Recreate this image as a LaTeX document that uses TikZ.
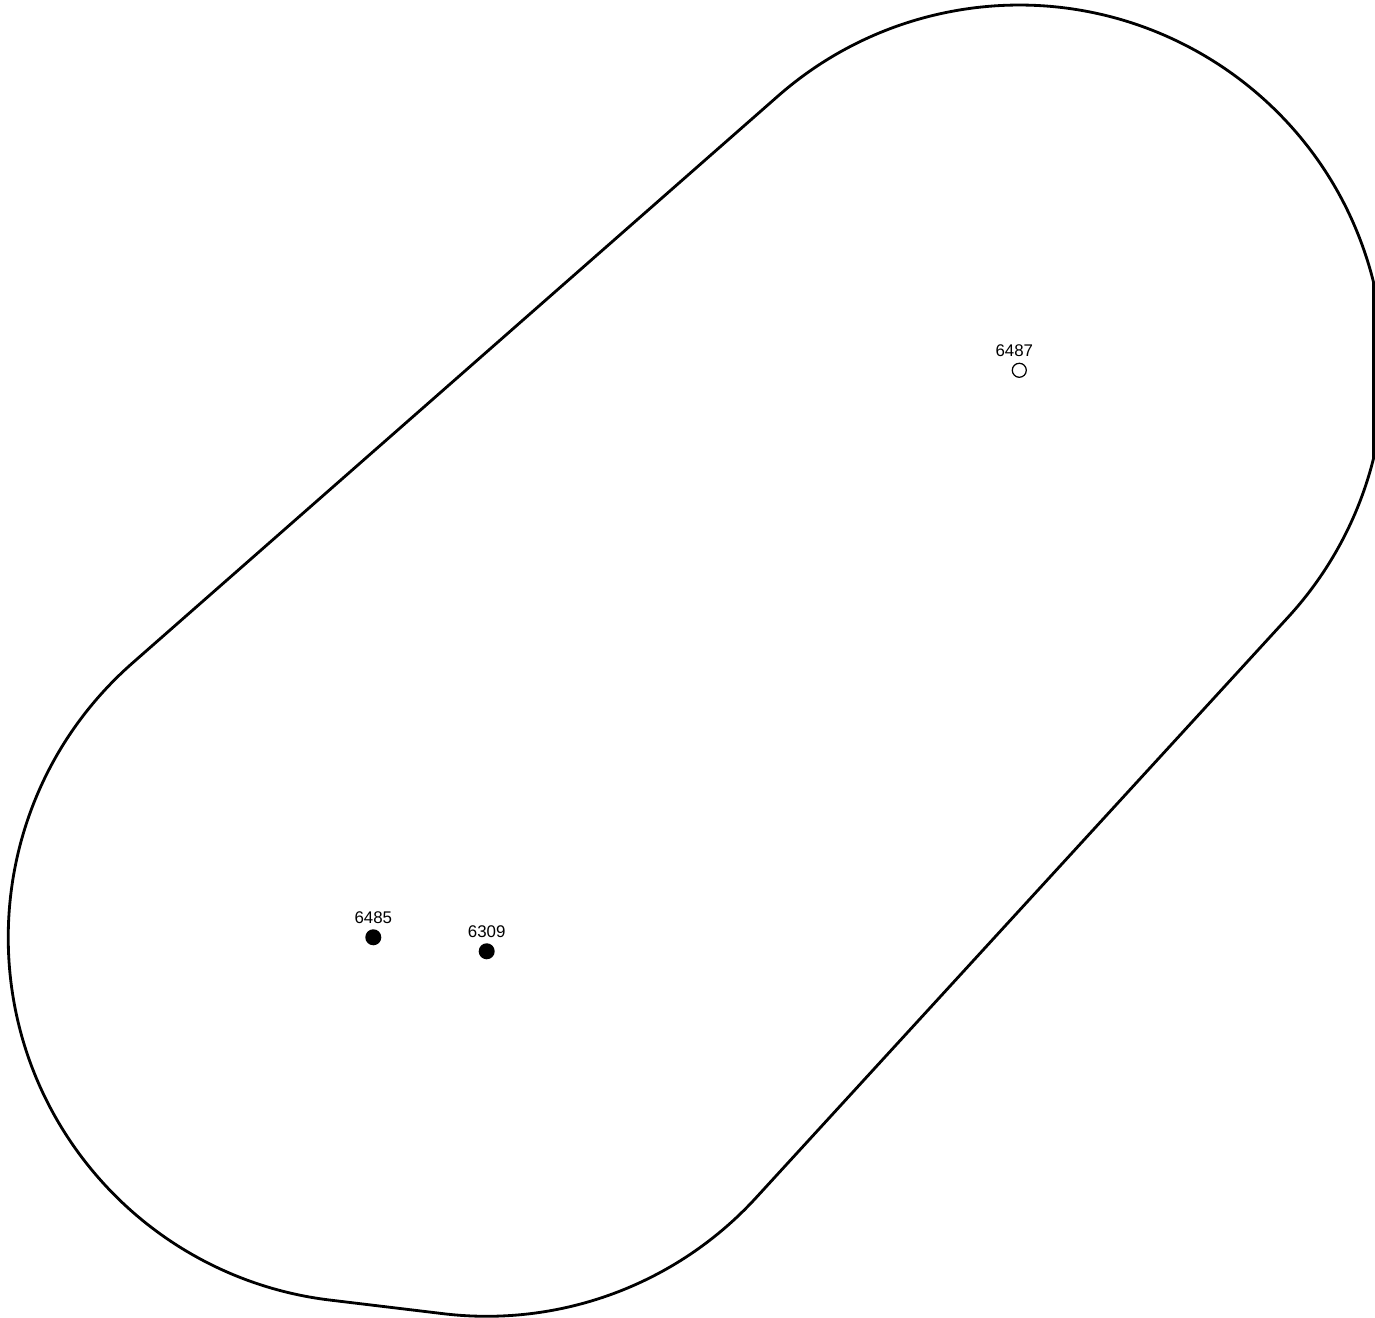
\documentclass[tikz,border=0pt]{standalone}
\usepackage{fontspec}
\setmainfont{Liberation Sans}
\usetikzlibrary{calc, positioning}

\begin{document}
\begin{tikzpicture}[x=0.01cm, y=0.01cm,
  outline/.style={draw=black, line width=0.8pt, line join=round},
  hit/.style={circle, fill=black, inner sep=0pt, minimum size=0.16cm},
  miss/.style={circle, draw=black, line width=0.35pt, fill=white,
               inner sep=0pt, minimum size=0.14cm},
  site/.style={font=\fontsize{4.8}{5.8}\selectfont, inner sep=0pt, anchor=base}
]
\useasboundingbox (0,-2) rectangle (1375,1316);
% station centres
\coordinate (c6485) at (373.3,378.7);
\coordinate (c6309) at (486.7,364.7);
\coordinate (c6487) at (1019.3,945.7);
% buffer round the three stations (cut at the right edge)
\draw[outline] ($(c6485)+(131.3:365)$)
  arc[start angle=131.3, end angle=263.0, radius=3.65cm]
  -- ($(c6309)+(263.0:365)$)
  arc[start angle=263.0, end angle=317.5, radius=3.65cm]
  -- ($(c6487)+(317.5:365)$)
  arc[start angle=317.5, end angle=346.0, radius=3.65cm]
  -- ($(c6487)+(14.0:365)$)
  arc[start angle=14.0, end angle=131.3, radius=3.65cm]
  -- cycle;
% stations
\node[hit] (s6485) at (c6485) {};
\node[hit] (s6309) at (c6309) {};
\node[miss] (s6487) at (c6487) {};
% station numbers
\node[site] (n6485) at ($(c6485)+(0,14)$) {6485};
\node[site] (n6309) at ($(c6309)+(0,14)$) {6309};
\node[site] (n6487) at ($(c6487)+(-5,14)$) {6487};
\end{tikzpicture}
\end{document}
